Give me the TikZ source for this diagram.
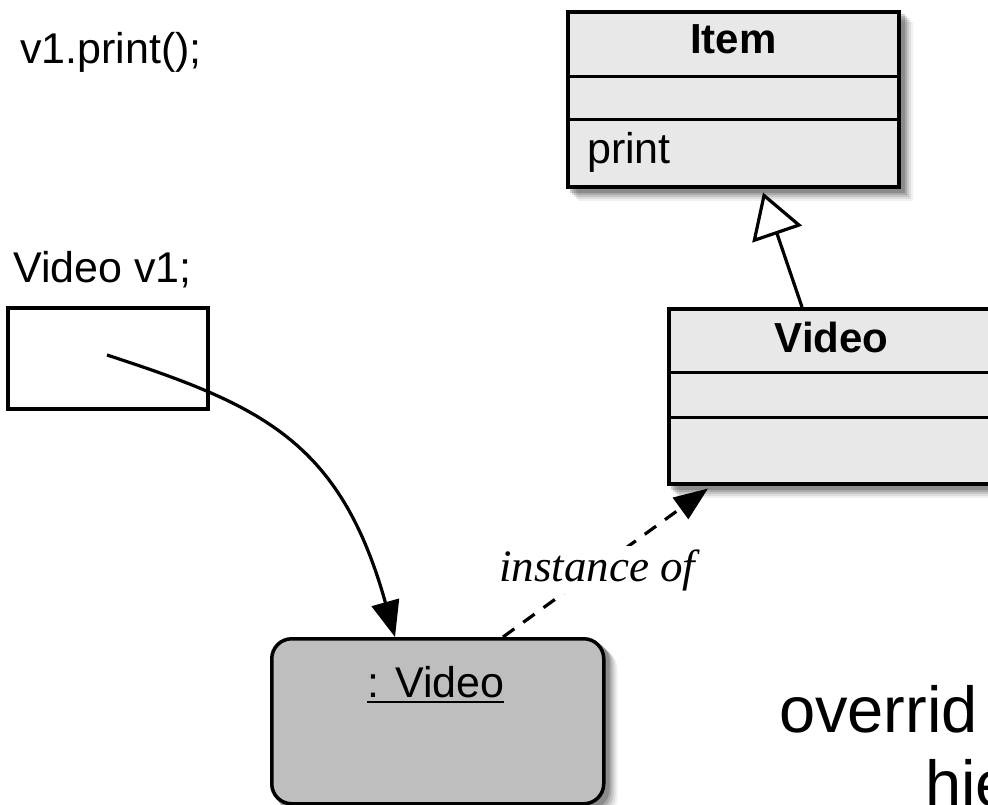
\documentclass[tikz,border=0pt]{standalone}
\usepackage{fontspec}
\setmainfont{Liberation Sans}
\newfontfamily\serifit{Liberation Serif}
\usetikzlibrary{arrows.meta,calc,backgrounds}
\definecolor{clsfill}{HTML}{E8E8E8}
\definecolor{objfill}{HTML}{BEBEBE}
\tikzset{
  classbox/.style={draw=black, fill=clsfill, line width=3.5pt, rectangle, inner sep=0pt, anchor=north west},
  objbox/.style={draw=black, fill=objfill, line width=3.5pt, rectangle, rounded corners=20pt, inner sep=0pt, anchor=north west},
  varbox/.style={draw=black, fill=white, line width=3.5pt, rectangle, inner sep=0pt, anchor=north west},
  divider/.style={line width=3pt},
  txt/.style={inner sep=0pt, font=\fontsize{43}{50}\selectfont},
  boldtxt/.style={inner sep=0pt, font=\fontsize{42}{50}\selectfont\bfseries},
  itxt/.style={inner sep=3pt, fill=white, font=\fontsize{45}{52}\selectfont\serifit\itshape},
  bigtxt/.style={inner sep=0pt, font=\fontsize{65}{76}\selectfont},
  refarrow/.style={line width=3.2pt, -{Triangle[length=36pt,width=28pt]}},
  instarrow/.style={line width=3.2pt, dash pattern=on 14pt off 11pt, -{Triangle[length=34pt,width=26pt]}},
  inherit/.style={line width=3.2pt, -{Triangle[length=44pt,width=52pt,fill=white]}},
}
\begin{document}
\begin{tikzpicture}[x=1pt,y=-1pt]
\useasboundingbox (0,0) rectangle (988,804);
\clip (0,0) rectangle (988,804);

% texts on the left
\node[txt, anchor=base west] (printcall) at (20,63) {v1.print();};
\node[txt, anchor=base west] (decl) at (13,282) {Video v1;};
\node[varbox, minimum width=200pt, minimum height=101pt] (v1box) at (6,306) {};
\coordinate (v1ref) at ($(v1box.north west)+(101,49)$);

% class Item
\node[classbox, minimum width=331pt, minimum height=175pt] (item) at (566,10) {};
\draw[divider] ($(item.north west)+(0,66)$) -- ($(item.north east)+(0,66)$);
\draw[divider] ($(item.north west)+(0,109)$) -- ($(item.north east)+(0,109)$);
\node[boldtxt, anchor=base] (itemname) at ($(item.north)+(0,43)$) {Item};
\node[txt, anchor=base west] (itemop) at ($(item.north west)+(21,153)$) {print};

% class Video
\node[classbox, minimum width=326pt, minimum height=175pt] (vclass) at (667,307) {};
\draw[divider] ($(vclass.north west)+(0,65)$) -- ($(vclass.north east)+(0,65)$);
\draw[divider] ($(vclass.north west)+(0,110)$) -- ($(vclass.north east)+(0,110)$);
\node[boldtxt, anchor=base] (vclassname) at ($(vclass.north)+(0,45)$) {Video};

% object
\node[objbox, minimum width=332pt, minimum height=165pt] (obj) at (270,637) {};
\node[txt, anchor=base] (objname) at ($(obj.north)+(-2,60)$) {: Video};
\draw[line width=2pt] ($(objname.base west)+(0,5)$) -- ($(objname.base east)+(0,5)$);

% shadows
\begin{scope}[on background layer]
  \foreach \d/\o in {12/0.06, 10/0.08, 8/0.11, 6/0.14, 4/0.18} {
    \fill[black, opacity=\o] ($(item.north west)+(\d,\d)$) rectangle ($(item.south east)+(\d,\d)$);
    \fill[black, opacity=\o] ($(vclass.north west)+(\d,\d)$) rectangle ($(vclass.south east)+(\d,\d)$);
    \fill[black, opacity=\o, rounded corners=20pt] ($(obj.north west)+(\d,\d)$) rectangle ($(obj.south east)+(\d,\d)$);
  }
\end{scope}

% connectors
\draw[inherit] ($(vclass.north west)+(135,0)$) -- ($(item.south west)+(197,4)$);
\draw[refarrow] (v1ref) .. controls (260,405) and (340,440) .. ($(obj.north west)+(125,0)$);
\draw[instarrow] ($(obj.north west)+(233,0)$) -- ($(vclass.south west)+(41,3)$);
\node[itxt, anchor=base west] (instlabel) at (496,581) {instance of};

% cut-off caption
\node[bigtxt, anchor=base west] (cap1) at (779,732) {overrid};
\node[bigtxt, anchor=base west] (cap2) at (925,806) {hie};
\end{tikzpicture}
\end{document}
